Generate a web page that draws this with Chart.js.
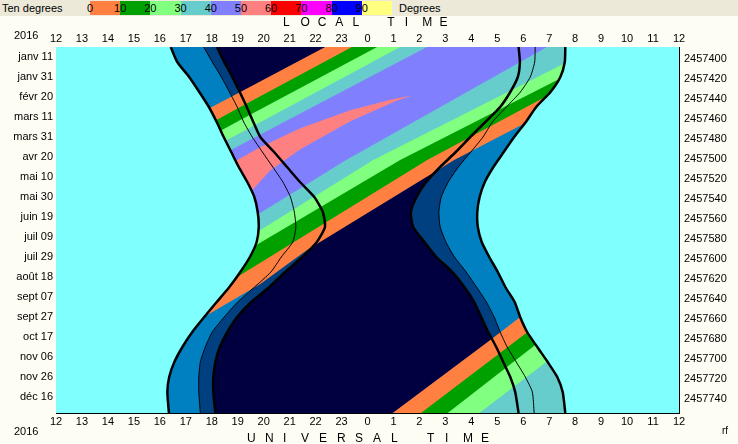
<!DOCTYPE html>
<html>
<head>
<meta charset="utf-8">
<title>Night chart 2016</title>
<script src="https://cdn.jsdelivr.net/npm/chart.js@4.4.0/dist/chart.umd.min.js"></script>
<style>
	html, body { margin: 0; padding: 0; background: #fdfdf3; }
	#page { position: relative; width: 738px; height: 444px; overflow: hidden;
		font-family: "Liberation Sans", Arial, sans-serif; font-size: 11px; color: #000; }
	#chart { position: absolute; left: 0; top: 0; }
	#strip { position: absolute; left: 0; top: 0; width: 738px; height: 16px; background: #ece9d8; }
	#strip .txt { position: absolute; top: 1px; line-height: 14px; }
	#bar { position: absolute; left: 90px; top: 1px; height: 14px; display: flex; }
	#bar span { position: relative; width: 30.2px; height: 14px; }
	#bar b { position: absolute; left: 0; top: 0; transform: translateX(-50%); font-weight: normal; line-height: 14px; }
	.spaced { position: absolute; display: flex; font-size: 12px; line-height: 14px; }
	.spaced span { display: inline-block; }
	.year { position: absolute; left: 14px; line-height: 13px; }
	#rf { position: absolute; left: 722px; top: 425px; font-size: 10px; }
</style>
</head>
<body>
<div id="page">
	<canvas id="chart" width="738" height="444"></canvas>
	<div id="strip">
		<span class="txt" style="left:2px">Ten degrees</span>
		<div id="bar"></div>
		<span class="txt" style="left:399px">Degrees</span>
	</div>
	<div class="spaced" id="localTitle" style="left:283px; top:15px"></div>
	<div class="spaced" id="utTitle" style="left:247px; top:431px"></div>
	<span class="year" style="top:29px">2016</span>
	<span class="year" style="top:425px">2016</span>
	<span id="rf">rf</span>
</div>
<script>
// day of year (0 = janv 1) and UT hour (24 = 0h next day)
const days = [0, 15, 30, 45, 60, 75, 90, 105, 120, 135, 150, 165, 180, 195, 210, 225, 240, 255, 270, 285, 300, 315, 330, 345, 366];
const sunset       = [16.42, 16.67, 17.13, 17.52, 17.89, 18.19, 18.46, 18.75, 19.04, 19.37, 19.64, 19.77, 19.81, 19.73, 19.47, 19.10, 18.68, 18.19, 17.71, 17.25, 16.87, 16.56, 16.36, 16.29, 16.35];
const civilDusk    = [17.69, 18.02, 18.37, 18.68, 18.98, 19.23, 19.56, 19.95, 20.35, 20.74, 21.03, 21.18, 21.24, 21.12, 20.68, 20.28, 19.65, 19.00, 18.48, 18.02, 17.75, 17.56, 17.50, 17.50, 17.56];
const nauticalDusk = [18.20, 18.48, 18.79, 19.08, 19.35, 19.60, 19.87, 20.40, 20.90, 21.40, 21.95, 22.28, 22.36, 22.05, 21.49, 20.83, 20.22, 19.52, 18.98, 18.60, 18.31, 18.14, 18.06, 18.06, 18.14];
const nauticalDawn = [29.82, 29.87, 29.79, 29.50, 29.11, 28.54, 27.96, 27.40, 26.80, 26.26, 25.89, 25.67, 25.76, 26.19, 26.65, 27.27, 27.73, 28.11, 28.38, 28.65, 28.96, 29.23, 29.50, 29.69, 29.82];
const civilDawn    = [30.46, 30.44, 30.27, 29.89, 29.35, 28.81, 28.45, 27.98, 27.50, 27.11, 26.84, 26.75, 26.80, 27.02, 27.35, 27.80, 28.20, 28.58, 28.88, 29.11, 29.38, 29.73, 30.08, 30.35, 30.42];
const sunrise      = [31.62, 31.60, 31.43, 31.05, 30.50, 30.10, 29.65, 29.25, 28.85, 28.52, 28.32, 28.23, 28.25, 28.40, 28.69, 29.02, 29.31, 29.67, 29.88, 30.15, 30.54, 30.94, 31.31, 31.52, 31.62];

// altitude lines, [day, hour]: rising through 0..50 degrees
const rise0  = [[0, 22.37], [45, 19.10], [75, 16.90]];
const rise10 = [[0, 23.40], [60, 19.10], [90, 16.98]];
const rise20 = [[0, 24.37], [73, 19.10], [103, 16.98]];
const rise30 = [[0, 25.26], [86, 19.10], [112, 17.17]];
const rise40 = [[0, 26.29], [98, 19.10], [122, 17.37]];
const rise50 = [[48.3, 25.73], [52.8, 24.88], [63.3, 23.34], [81.3, 21.41], [100.3, 19.87], [111.3, 19.10], [125.3, 18.14]];
// setting through 0..50 degrees
const set0  = [[0, 35.59], [75, 30.16], [113, 27.34], [203, 21.67], [237, 19.87], [268, 17.83], [298, 16.40]];
const set10 = [[0, 34.53], [51, 30.77], [113, 26.30], [230, 18.98], [253, 17.56]];
const set20 = [[0, 33.85], [33, 31.31], [113, 25.26], [198, 19.72], [219, 18.41]];
const set30 = [[0, 32.86], [17, 31.54], [113, 24.22], [185, 19.75], [204, 18.52]];
const set40 = [[0, 30.91], [113, 23.18], [168, 19.74], [188, 18.48]];
const set50 = [[48.3, 25.73], [54.3, 25.07], [74.3, 23.34], [102.3, 21.41], [123.3, 20.26], [143.3, 19.56], [165.3, 18.52]];
// next rising, end of the year
const nextRise0  = [[366, 24.97], [293, 28.73], [203, 33.24]];
const nextRise10 = [[366, 26.06], [285, 30.17], [203, 34.32]];
const nextRise20 = [[366, 27.09], [298, 30.46], [223, 34.02]];
const nextRise30 = [[366, 28.31], [315, 30.89], [243, 34.50]];

const hourTicks  = [12, 13, 14, 15, 16, 17, 18, 19, 20, 21, 22, 23, 24, 25, 26, 27, 28, 29, 30, 31, 32, 33, 34, 35, 36];
const hourLabels = ['12', '13', '14', '15', '16', '17', '18', '19', '20', '21', '22', '23', '0', '1', '2', '3', '4', '5', '6', '7', '8', '9', '10', '11', '12'];
const dateTicks  = [10, 30, 50, 70, 90, 110, 130, 150, 170, 190, 210, 230, 250, 270, 290, 310, 330, 350];
const dateLabels = ['janv 11', 'janv 31', 'févr 20', 'mars 11', 'mars 31', 'avr 20', 'mai 10', 'mai 30', 'juin 19', 'juil 09', 'juil 29', 'août 18', 'sept 07', 'sept 27', 'oct 17', 'nov 06', 'nov 26', 'déc 16'];
const jdTicks    = [2457400, 2457420, 2457440, 2457460, 2457480, 2457500, 2457520, 2457540, 2457560, 2457580, 2457600, 2457620, 2457640, 2457660, 2457680, 2457700, 2457720, 2457740];

const bandColors = ['#ff8040', '#00a000', '#80ff80', '#66cccc', '#8080ff', '#ff8080', '#ff0000', '#ff00ff', '#0000ff', '#ffff80'];
const bandLabels = ['0', '10', '20', '30', '40', '50', '60', '70', '80', '90'];

const hourMin = 12, hourMax = 36, dayMax = 366, jdStart = 2457388.5;
const colDay = '#80ffff', colCivil = '#0080c0', colNaut = '#004080', colNight = '#000040';

// header and titles
const bar = document.getElementById('bar');
bandColors.forEach((c, i) => {
	const seg = document.createElement('span');
	seg.style.background = c;
	const lab = document.createElement('b');
	lab.textContent = bandLabels[i];
	seg.appendChild(lab);
	bar.appendChild(seg);
});
function spaced(id, text, pitch) {
	const el = document.getElementById(id);
	for (const ch of text) {
		const s = document.createElement('span');
		s.style.width = pitch + 'px';
		s.textContent = ch === ' ' ? '\u00a0' : ch;
		el.appendChild(s);
	}
}
spaced('localTitle', 'LOCAL TIME', 17.4);
spaced('utTitle', 'UNIVERSAL TIME', 18);

// data helpers
const curve = hours => days.map((d, i) => ({ x: hours[i], y: d }));
const pts = list => list.map(p => ({ x: p[1], y: p[0] }));
const area = (data, color) => ({ data, backgroundColor: color, borderWidth: 0, fill: 'shape', pointRadius: 0, tension: 0 });
const edge = (hours, w) => ({ data: curve(hours), borderColor: '#000', borderWidth: w, fill: false, pointRadius: 0, tension: 0.2 });

const riseLines = [rise0, rise10, rise20, rise30, rise40, rise50];
const setLines = [set0, set10, set20, set30, set40, set50];
const nextLines = [nextRise0, nextRise10, nextRise20, nextRise30];

const datasets = [];
datasets.push(area(curve(civilDusk).concat(curve(civilDawn).reverse()), colNaut));
datasets.push(area(curve(nauticalDusk).concat(curve(nauticalDawn).reverse()), colNight));
riseLines.forEach((r, k) => {
	datasets.push(area(pts(r).concat(pts(setLines[k]).reverse()), bandColors[k]));
});
nextLines.forEach((r, k) => {
	const last = r[r.length - 1];
	datasets.push(area(pts(r).concat([{ x: hourMax, y: last[0] }, { x: hourMax, y: dayMax }]), bandColors[k]));
});
datasets.push(area([{ x: hourMin, y: 0 }].concat(curve(sunset), [{ x: hourMin, y: dayMax }]), colDay));
datasets.push(area([{ x: hourMax, y: 0 }].concat(curve(sunrise), [{ x: hourMax, y: dayMax }]), colDay));
datasets.push(edge(sunset, 2.5), edge(civilDusk, 1), edge(nauticalDusk, 2.5));
datasets.push(edge(nauticalDawn, 2.5), edge(civilDawn, 1), edge(sunrise, 2.5));
datasets.forEach((d, i) => { d.order = -i; });

function hourAxis(position, height, pad) {
	return {
		type: 'linear', position, min: hourMin, max: hourMax, z: 1,
		afterBuildTicks: s => { s.ticks = hourTicks.map(v => ({ value: v })); },
		afterFit: s => { s.height = height; },
		grid: { drawOnChartArea: false, tickLength: -4, color: '#000' },
		border: { color: '#000' },
		ticks: { autoSkip: false, maxRotation: 0, minRotation: 0, padding: pad, callback: (v, i) => hourLabels[i] }
	};
}

const areaBg = {
	id: 'areaBg',
	beforeDatasetsDraw(chart) {
		const { ctx, chartArea: a } = chart;
		ctx.save();
		ctx.fillStyle = colCivil;
		ctx.fillRect(a.left, a.top, a.right - a.left, a.bottom - a.top);
		ctx.restore();
	}
};

Chart.defaults.font.family = '"Liberation Sans", Arial, sans-serif';
Chart.defaults.font.size = 11;
Chart.defaults.color = '#000';

new Chart(document.getElementById('chart'), {
	type: 'line',
	data: { datasets },
	options: {
		responsive: false,
		animation: false,
		events: [],
		layout: { padding: 0 },
		plugins: { legend: { display: false }, tooltip: { enabled: false } },
		scales: {
			x: hourAxis('top', 47, 5),
			x2: hourAxis('bottom', 31, 6),
			y: {
				type: 'linear', position: 'left', reverse: true, min: 0, max: dayMax, z: 1,
				afterBuildTicks: s => { s.ticks = dateTicks.map(v => ({ value: v })); },
				afterFit: s => { s.width = 56; },
				grid: { drawOnChartArea: false, tickLength: -4, color: '#000' },
				border: { color: '#000' },
				ticks: { autoSkip: false, padding: 7, callback: (v, i) => dateLabels[i] }
			},
			y2: {
				type: 'linear', position: 'right', reverse: true, min: jdStart, max: jdStart + dayMax, z: 1,
				afterBuildTicks: s => { s.ticks = jdTicks.map(v => ({ value: v })); },
				afterFit: s => { s.width = 59; },
				grid: { drawOnChartArea: false, tickLength: -4, color: '#000' },
				border: { color: '#000' },
				ticks: { autoSkip: false, padding: 9, callback: v => String(v) }
			}
		}
	},
	plugins: [areaBg]
});
</script>
</body>
</html>
